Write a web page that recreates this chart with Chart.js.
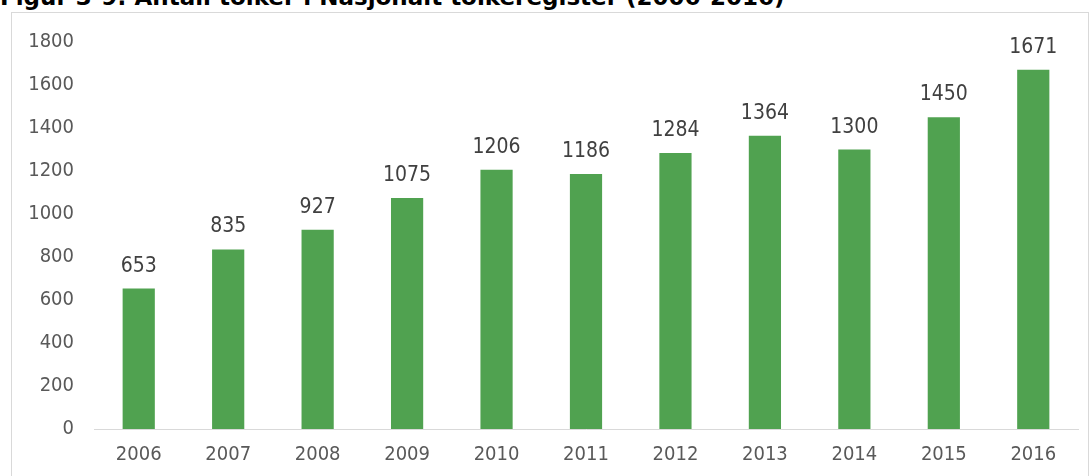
<!DOCTYPE html>
<html>
<head>
<meta charset="utf-8">
<script src="https://cdn.jsdelivr.net/npm/chart.js@4/dist/chart.umd.min.js"></script>
<style>
  body { margin: 0; background: #fff; overflow: hidden; }
  #wrap { position: relative; width: 1090px; height: 476px; }
  #title { position: absolute; left: 0; top: -14px; font: bold 23px "DejaVu Sans", Verdana, sans-serif; line-height: 23px; color: #000; white-space: nowrap; }
  #frame { position: absolute; left: 11px; top: 12px; width: 1076px; height: 480px; border: 1px solid #d9d9d9; }
  #chart { position: absolute; left: 0; top: 0; }
</style>
</head>
<body>
<div id="wrap">
  <div id="title">Figur 3-9: Antall tolker i Nasjonalt tolkeregister (2006-2016)</div>
  <div id="frame"></div>
  <canvas id="chart" width="1090" height="476"></canvas>
</div>
<script>
const years = ['2006', '2007', '2008', '2009', '2010', '2011', '2012', '2013', '2014', '2015', '2016']
const interpreters = [653, 835, 927, 1075, 1206, 1186, 1284, 1364, 1300, 1450, 1671]
const yTicks = [0, 200, 400, 600, 800, 1000, 1200, 1400, 1600, 1800]

const textColor = '#595959'
const fontFamily = '"DejaVu Sans Condensed", Tahoma, "DejaVu Sans", sans-serif'

// value labels above each bar
const barLabels = {
  id: 'barLabels',
  afterDatasetsDraw(chart) {
    const ctx = chart.ctx
    const meta = chart.getDatasetMeta(0)
    ctx.save()
    ctx.fillStyle = '#404040'
    ctx.font = '21px ' + fontFamily
    ctx.textAlign = 'center'
    ctx.textBaseline = 'alphabetic'
    meta.data.forEach((bar, i) => {
      ctx.fillText(String(interpreters[i]), bar.x, bar.y - 17)
    })
    ctx.restore()
  }
}

new Chart(document.getElementById('chart'), {
  type: 'bar',
  data: {
    labels: years,
    datasets: [{
      data: interpreters,
      backgroundColor: '#50a250',
      barPercentage: 0.36,
      categoryPercentage: 1
    }]
  },
  options: {
    responsive: false,
    animation: false,
    layout: { padding: { top: 42, right: 12, left: 0, bottom: 0 } },
    plugins: { legend: { display: false }, tooltip: { enabled: false } },
    scales: {
      x: {
        grid: { display: false, drawTicks: false },
        border: { color: '#d9d9d9', width: 1 },
        ticks: { color: textColor, font: { size: 20, family: fontFamily }, padding: 14 },
        afterFit: s => { s.height = 47 }
      },
      y: {
        min: 0,
        max: 1800,
        afterBuildTicks: s => { s.ticks = yTicks.map(v => ({ value: v })) },
        grid: { display: false, drawTicks: false },
        border: { display: false },
        ticks: { color: textColor, font: { size: 20, family: fontFamily }, padding: 20, callback: v => String(v) },
        afterFit: s => { s.width = 94 }
      }
    }
  },
  plugins: [barLabels]
})
</script>
</body>
</html>
